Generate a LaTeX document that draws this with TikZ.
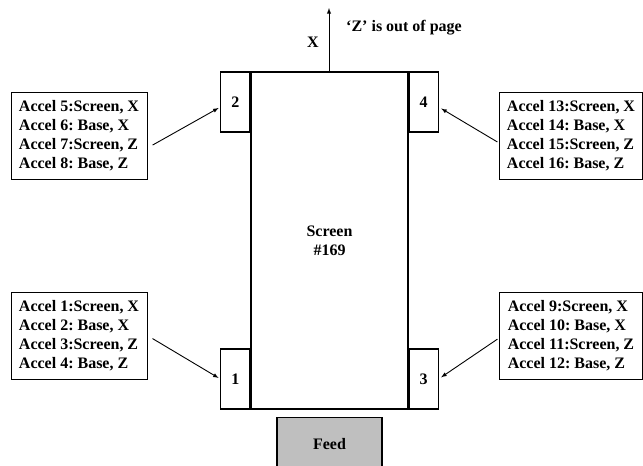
\documentclass[tikz,border=0pt]{standalone}
\usepackage{fontspec}
\setmainfont{Liberation Serif}
\usepackage{tikz}
\usetikzlibrary{positioning}
\frenchspacing

\begin{document}
\begin{tikzpicture}[x=1pt, y=-1pt, line width=1.1pt, inner sep=0pt,]% 1 unit = 1 px
\useasboundingbox (0,0) rectangle (643,466);
\tikzstyle{every node}=[font=\fontsize{16}{19}\selectfont\bfseries]
\tikzstyle{accbox}=[draw, line width=.8pt, align=left, minimum height=87pt]
\tikzstyle{pad}=[draw, minimum width=29pt, minimum height=60pt]
\tikzstyle{lead}=[->, >=latex, line width=.9pt]

% screen with the four corner pads
\node[draw, minimum width=157pt, minimum height=337pt, align=center] (screen) at (329.5,240.5) {Screen\\\#169};
\node[pad, anchor=north east] (pad2) at (screen.north west) {2};
\node[pad, anchor=north west] (pad4) at (screen.north east) {4};
\node[pad, anchor=south east] (pad1) at (screen.south west) {1};
\node[pad, anchor=south west] (pad3) at (screen.south east) {3};

\node[draw, fill=gray!50, minimum width=105pt, minimum height=54pt, below=7pt of screen] (feed) {Feed};

% axis
\coordinate (xtip) at (329,8);
\draw[lead] (screen.north -| xtip) -- (xtip);
\node (xlab) at (313,42) {X};
\node (zlab) at (404,28) {‘Z’ is out of page};

% accelerometer boxes
\node[accbox, minimum width=136pt] (acca) at (79,135.5) {Accel 5:Screen, X\\Accel 6: Base, X\\Accel 7:Screen, Z\\Accel 8: Base, Z};
\node[accbox, minimum width=136pt] (accb) at (79,335.5) {Accel 1:Screen, X\\Accel 2: Base, X\\Accel 3:Screen, Z\\Accel 4: Base, Z};
\node[accbox, minimum width=143pt] (accc) at (571,336) {Accel 9:Screen, X\\Accel 10: Base, X\\Accel 11:Screen, Z\\Accel 12: Base, Z};
\node[accbox, minimum width=143pt] (accd) at (571,136) {Accel 13:Screen, X\\Accel 14: Base, X\\Accel 15:Screen, Z\\Accel 16: Base, Z};

\draw[lead, shorten <=6pt, shorten >=2pt] ([yshift=-12.5pt]acca.east) -- ([yshift=-5pt]pad2.west);
\draw[lead, shorten <=6pt, shorten >=2pt] (accb.east) -- (pad1.west);
\draw[lead, shorten <=2pt, shorten >=3pt] ([yshift=-2pt]accc.west) -- (pad3.east);
\draw[lead, shorten <=2pt, shorten >=3pt] ([yshift=-7pt]accd.west) -- ([yshift=-5pt]pad4.east);

\end{tikzpicture}
\end{document}
